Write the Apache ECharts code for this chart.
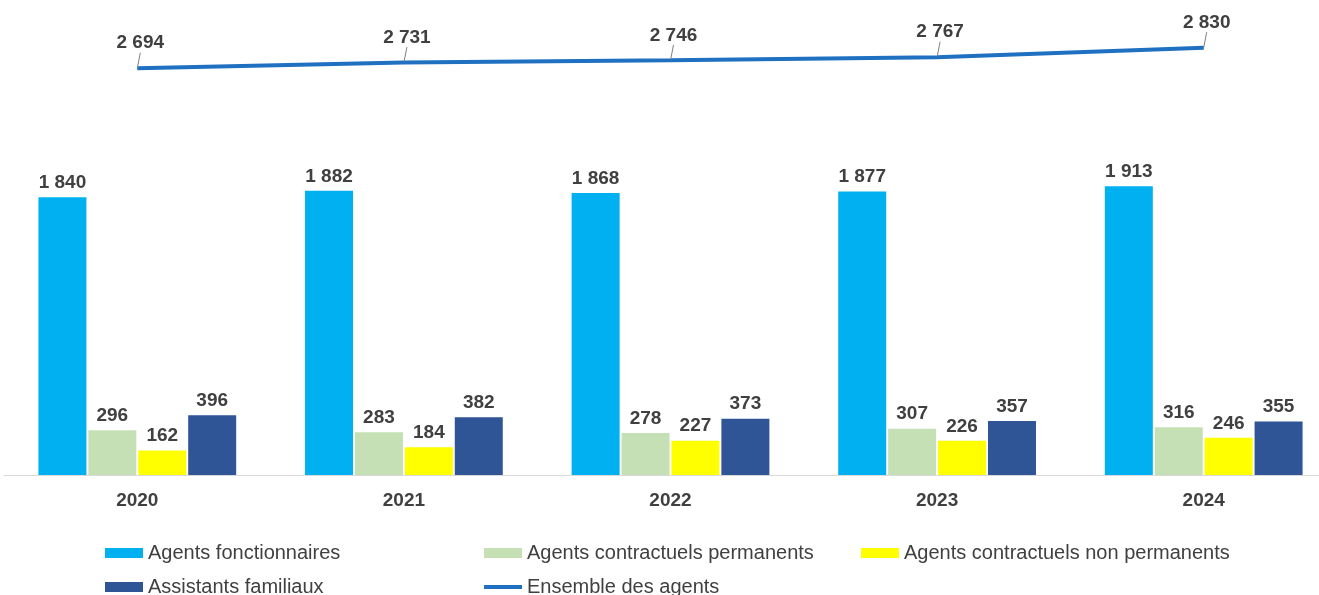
<!DOCTYPE html>
<html>
<head>
<meta charset="utf-8">
<script src="https://cdn.jsdelivr.net/npm/echarts@6/dist/echarts.min.js"></script>
<style>
  html, body { margin: 0; padding: 0; background: #fff; }
  #effectifs { width: 1319px; height: 595px; }
</style>
</head>
<body>
<div id="effectifs"></div>
<script>
/* Evolution des effectifs par statut */
var years = ['2020', '2021', '2022', '2023', '2024'];
var fonctionnaires = [1840, 1882, 1868, 1877, 1913];
var contractuelsPerm = [296, 283, 278, 307, 316];
var contractuelsNonPerm = [162, 184, 227, 226, 246];
var assistants = [396, 382, 373, 357, 355];
var ensemble = [2694, 2731, 2746, 2767, 2830];

var chart = echarts.init(document.getElementById('effectifs'));

function fmt(v) {
  return String(v).replace(/\B(?=(\d{3})+(?!\d))/g, ' ');
}

var labelStyle = {
  show: true,
  position: 'top',
  distance: 5,
  color: '#404040',
  fontSize: 19,
  fontWeight: 'bold',
  fontFamily: 'Liberation Sans',
  formatter: function(p) { return fmt(p.value); }
};

function bar(name, data, color) {
  return {
    name: name,
    type: 'bar',
    data: data,
    barWidth: 48,
    barGap: '4%',
    itemStyle: { color: color },
    label: labelStyle
  };
}

function legendAt(name, left, top, h) {
  return {
    data: [name],
    left: left,
    top: top,
    icon: 'rect',
    itemWidth: 38,
    itemHeight: h,
    itemGap: 0,
    padding: 0,
    textStyle: {
      color: '#404040',
      fontSize: 20,
      fontFamily: 'Liberation Sans'
    }
  };
}

chart.setOption({
  animation: false,
  grid: { left: 4, width: 1333, top: 22, bottom: 120, outerBoundsMode: 'none', containLabel: false },
  legend: [
    legendAt('Agents fonctionnaires', 105, 543, 10),
    legendAt('Agents contractuels permanents', 484, 543, 10),
    legendAt('Agents contractuels non permanents', 861, 543, 10),
    legendAt('Assistants familiaux', 105, 577, 10),
    legendAt('Ensemble des agents', 484, 577, 4)
  ],
  xAxis: {
    type: 'category',
    data: years,
    axisTick: { show: false },
    axisLine: { lineStyle: { color: '#d9d9d9', width: 1 } },
    axisLabel: {
      color: '#404040',
      fontSize: 19,
      fontWeight: 'bold',
      fontFamily: 'Liberation Sans',
      margin: 16
    }
  },
  yAxis: {
    type: 'value',
    min: 0,
    max: 3000,
    show: false,
    splitLine: { show: false }
  },
  series: [
    bar('Agents fonctionnaires', fonctionnaires, '#00b0f0'),
    bar('Agents contractuels permanents', contractuelsPerm, '#c5e0b4'),
    bar('Agents contractuels non permanents', contractuelsNonPerm, '#ffff00'),
    bar('Assistants familiaux', assistants, '#2f5597'),
    {
      name: 'Ensemble des agents',
      type: 'line',
      data: ensemble,
      symbol: 'circle',
      symbolSize: 1,
      showSymbol: true,
      lineStyle: { color: '#1f70c1', width: 4 },
      itemStyle: { color: '#1f70c1' },
      label: {
        show: true,
        position: 'top',
        distance: 2,
        color: '#404040',
        fontSize: 19,
        fontWeight: 'bold',
        fontFamily: 'Liberation Sans',
        formatter: function(p) { return fmt(p.value); }
      },
      labelLayout: { dx: 3, dy: -13 },
      labelLine: { show: true, lineStyle: { color: '#7f7f7f', width: 1 } }
    }
  ]
});
</script>
</body>
</html>
